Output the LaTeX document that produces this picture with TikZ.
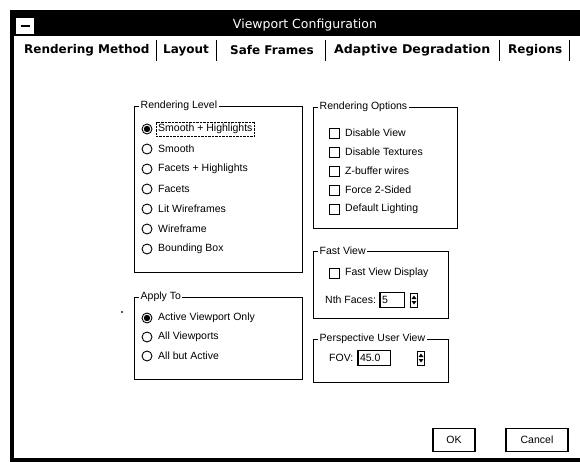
\documentclass[tikz,border=0pt]{standalone}
\usepackage{fontspec}
\setmainfont{Liberation Sans}
\newfontfamily\dvfont{DejaVu Sans}

\begin{document}
\begin{tikzpicture}[x=1pt, y=-1pt,
  every node/.style={inner sep=0pt, font=\fontsize{10.5}{12}\selectfont},
  grpbox/.style={draw, line width=0.8pt},
  grptitle/.style={fill=white, inner xsep=1.5pt, anchor=west},
  radiobtn/.style={circle, draw, line width=0.9pt, minimum size=10pt},
  chkbox/.style={draw, line width=0.8pt, minimum size=10pt},
  itemlbl/.style={anchor=west},
  tablbl/.style={anchor=west, font=\dvfont\bfseries\fontsize{12}{14}\selectfont},
  editbox/.style={draw, line width=0.6pt, minimum height=15pt, text width=#1, align=left, inner xsep=2pt},
  spinbox/.style={draw, line width=0.8pt, minimum width=7pt, minimum height=14pt},
  btn/.style={draw, line width=1.4pt, minimum height=23pt}]
\useasboundingbox (0,0) rectangle (580,462);
\clip (0,0) rectangle (580,462);

% window frame and title bar
\fill (10,10) rectangle (590,36);
\draw[line width=4pt] (12,10) -- (12,460) -- (590,460);
\node[fill=white, minimum width=18pt, minimum height=16pt] (sysmenu) at (25,26) {\rule{9pt}{2pt}};
\node[text=white, font=\dvfont\fontsize{12.5}{14}\selectfont] (title) at (305,25) {Viewport Configuration};

% tabs
\node[tablbl] (tabrender) at (24,50) {Rendering Method};
\node[tablbl] (tablayout) at (163,50) {Layout};
\node[tablbl] (tabsafe) at (230,50) {Safe Frames};
\node[tablbl, xscale=1.05] (tabadapt) at (334,50) {Adaptive Degradation};
\node[tablbl] (tabregion) at (508,50) {Regions};
\foreach \sx in {156,216,325,499,569}
  \draw[line width=1pt] (\sx,40) -- (\sx,61);

% rendering level
\draw[grpbox] (134,106) rectangle (302,272);
\node[grptitle] (rlevel) at (139,106) {Rendering Level};
\node[radiobtn] (r1) at (147,129) {};
\fill (r1) circle (3.2pt);
\node[itemlbl] (l1) at (158,129) {Smooth + Highlights};
\draw[densely dotted] ([shift={(-1.5,2)}]l1.south west) rectangle ([shift={(1.5,-2)}]l1.north east);
\foreach \lab [count=\i from 2] in {Smooth, Facets + Highlights, Facets, Lit Wireframes, Wireframe, Bounding Box} {
  \node[radiobtn] (r\i) at (147,{109+20*\i}) {};
  \node[itemlbl] (l\i) at (158,{109+20*\i}) {\lab};
}

% apply to
\draw[grpbox] (134,297) rectangle (302,379);
\node[grptitle] (apply) at (139,297) {Apply To};
\draw (122,312) circle (0.8pt);
\node[radiobtn] (a1) at (147,318) {};
\fill (a1) circle (3.2pt);
\node[itemlbl] (al1) at (158,318) {Active Viewport Only};
\node[radiobtn] (a2) at (147,337) {};
\node[itemlbl] (al2) at (158,337) {All Viewports};
\node[radiobtn] (a3) at (147,356) {};
\node[itemlbl] (al3) at (158,356) {All but Active};

% rendering options
\draw[grpbox] (313,107) rectangle (457,228);
\node[grptitle] (ropts) at (318,107) {Rendering Options};
\foreach \lab [count=\i] in {Disable View, Disable Textures, Z-buffer wires, Force 2-Sided, Default Lighting} {
  \node[chkbox] (c\i) at (334,{114+19*\i}) {};
  \node[itemlbl] (cl\i) at (345,{114+19*\i}) {\lab};
}

% fast view
\draw[grpbox] (313,251) rectangle (448,318);
\node[grptitle] (fast) at (318,251) {Fast View};
\node[chkbox] (fv) at (334,273) {};
\node[itemlbl] (fvl) at (345,273) {Fast View Display};
\node[itemlbl] (nth) at (325,300) {Nth Faces:};
\node[editbox=20pt] (nthval) at (392,300) {5};
\draw[line width=1.4pt] (nthval.south west) -- (nthval.north west) -- (nthval.north east);
\node[spinbox] (nthspin) at (414,300) {};
\fill ([shift={(-2.5,-1)}]nthspin.center) -- ([shift={(2.5,-1)}]nthspin.center) -- ([shift={(0,-4.5)}]nthspin.center) -- cycle;
\fill ([shift={(-2.5,1)}]nthspin.center) -- ([shift={(2.5,1)}]nthspin.center) -- ([shift={(0,4.5)}]nthspin.center) -- cycle;

% perspective user view
\draw[grpbox] (313,339) rectangle (448,382);
\node[grptitle] (persp) at (318,339) {Perspective User View};
\node[itemlbl] (fov) at (329,358) {FOV:};
\node[editbox=28pt] (fovval) at (374,358) {45.0};
\draw[line width=1.4pt] (fovval.south west) -- (fovval.north west) -- (fovval.north east);
\node[spinbox] (fovspin) at (421,358) {};
\fill ([shift={(-2.5,-1)}]fovspin.center) -- ([shift={(2.5,-1)}]fovspin.center) -- ([shift={(0,-4.5)}]fovspin.center) -- cycle;
\fill ([shift={(-2.5,1)}]fovspin.center) -- ([shift={(2.5,1)}]fovspin.center) -- ([shift={(0,4.5)}]fovspin.center) -- cycle;

% buttons
\node[btn, minimum width=42pt] (ok) at (454,440) {OK};
\node[btn, minimum width=62pt] (cancel) at (537,440) {Cancel};
\end{tikzpicture}
\end{document}
